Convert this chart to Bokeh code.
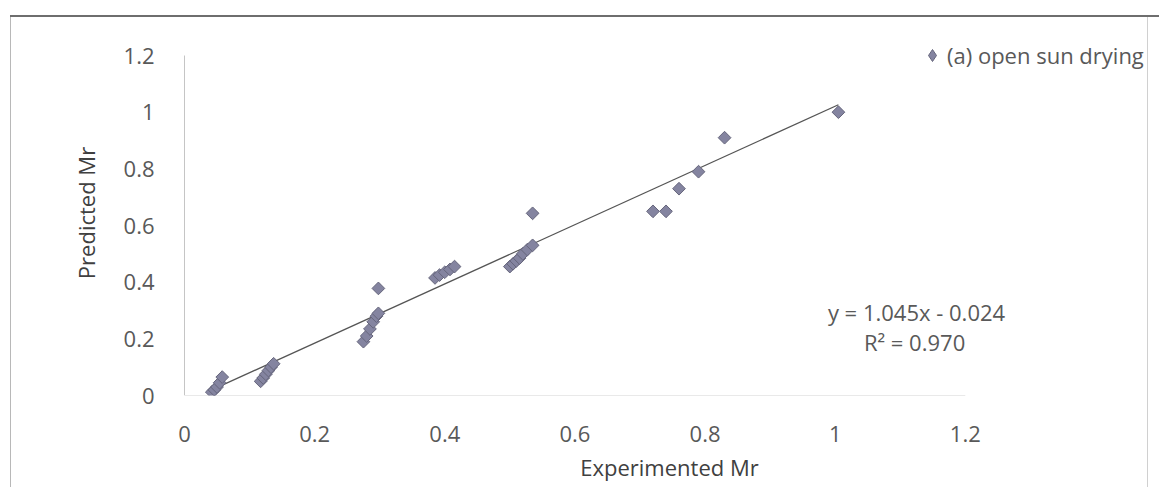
from bokeh.plotting import figure
from bokeh.models import Legend, LegendItem, Label, FixedTicker, Title
from bokeh.embed import file_html
from bokeh.resources import INLINE
import numpy as np

# ---- data ----
experimented_mr = [0.042, 0.046, 0.050, 0.054, 0.058,
                   0.117, 0.121, 0.125, 0.129, 0.133, 0.137,
                   0.275, 0.280, 0.285, 0.290, 0.295, 0.298, 0.298,
                   0.385, 0.392, 0.400, 0.408, 0.415,
                   0.500, 0.505, 0.510, 0.515, 0.520, 0.527, 0.535,
                   0.535, 0.720, 0.740, 0.760, 0.790, 0.830, 1.005]
predicted_mr = [0.012, 0.020, 0.030, 0.045, 0.065,
                0.050, 0.062, 0.075, 0.088, 0.100, 0.112,
                0.190, 0.210, 0.235, 0.260, 0.280, 0.290, 0.378,
                0.415, 0.425, 0.435, 0.445, 0.455,
                0.455, 0.465, 0.475, 0.485, 0.500, 0.515, 0.530,
                0.643, 0.650, 0.650, 0.730, 0.790, 0.910, 1.000]
series_name = "(a) open sun drying"
trend_slope = 1.045
trend_intercept = -0.024
equation_text = "y = 1.045x - 0.024"
r2_text = "R\u00b2 = 0.970"
tick_values = [0, 0.2, 0.4, 0.6, 0.8, 1, 1.2]
tick_labels = ["0", "0.2", "0.4", "0.6", "0.8", "1", "1.2"]
x_label = "Experimented Mr"
y_label = "Predicted Mr"

FONT = "Open Sans"
TXT = "#595959"
MARK_FILL = "#8484a0"
MARK_LINE = "#66667c"

# frame: x 0..1.2 spans px 184..965 (650 px/unit); y 0..1.2 spans px 395..55 (283 px/unit)
# the frame is stretched to the right and upward so that legend and equation are not clipped
p = figure(width=1159, height=487,
           x_range=(0, 1.2 + (1154 - 965) / 650.0),
           y_range=(0, 1.2 + (55 - 30) / 283.0),
           output_backend="svg", toolbar_location=None,
           min_border_left=184, min_border_right=5,
           min_border_top=30, min_border_bottom=92)
p.background_fill_color = None
p.border_fill_color = None
p.outline_line_color = None
p.grid.visible = False
p.styles = {"background": (
    "linear-gradient(#6e6e6e,#6e6e6e) 10px 15px / 100% 2px no-repeat, "
    "linear-gradient(#b8b8b8,#b8b8b8) 10px 15px / 1px 100% no-repeat, "
    "linear-gradient(#d0d0d0,#d0d0d0) 1147px 15px / 1px 100% no-repeat, #ffffff")}

overrides = {v: l for v, l in zip(tick_values, tick_labels)}
for ax in (p.xaxis[0], p.yaxis[0]):
    ax.ticker = FixedTicker(ticks=tick_values)
    ax.major_label_overrides = overrides
    ax.axis_line_color = None
    ax.major_tick_line_color = None
    ax.minor_tick_line_color = None
    ax.major_label_text_font = FONT
    ax.major_label_text_font_size = "22px"
    ax.major_label_text_color = TXT
    ax.axis_label_text_font = FONT
    ax.axis_label_text_font_size = "22px"
    ax.axis_label_text_font_style = "normal"
    ax.axis_label_text_color = "#404040"

p.yaxis.axis_label = y_label
p.xaxis.major_label_standoff = 24
p.yaxis.major_label_standoff = 24
p.yaxis.axis_label_standoff = 20

# x-axis title, centred under the 0..1.2 axis span (not under the widened frame)
xtitle = Title(text=x_label, align="center", offset=577 - (184 + 1154) / 2.0,
               text_font=FONT, text_font_size="22px", text_font_style="normal",
               text_color="#404040", standoff=10, text_baseline="alphabetic")
p.add_layout(xtitle, "below")

# axis lines limited to the 0..1.2 axis span
lo, hi = tick_values[0], tick_values[-1]
p.segment(x0=[lo], y0=[lo], x1=[hi], y1=[lo], line_color="#d4d4d4", line_width=1)
p.segment(x0=[lo], y0=[lo], x1=[lo], y1=[hi], line_color="#8c8c8c", line_width=1)

# trend line over the data range
x0, x1 = min(experimented_mr), max(experimented_mr)
tx = np.array([x0, x1])
p.line(tx, trend_slope * tx + trend_intercept, line_color="#555555", line_width=1.3)

p.scatter(experimented_mr, predicted_mr, marker="square", size=9, angle=np.pi / 4,
          fill_color=MARK_FILL, line_color=MARK_LINE, line_width=1)
# legend swatch: same series as a hidden diamond renderer (legend ignores marker angle)
swatch = p.scatter(experimented_mr, predicted_mr, marker="diamond", size=12,
                   fill_color=MARK_FILL, line_color=MARK_LINE, line_width=1,
                   visible=False)

legend = Legend(items=[LegendItem(label=series_name, renderers=[swatch])],
                location=(733, 324), padding=0, margin=0, spacing=0,
                glyph_width=30, glyph_height=32, label_standoff=0,
                border_line_color=None, background_fill_alpha=0,
                inactive_fill_alpha=0,
                label_text_font=FONT, label_text_font_size="22px",
                label_text_color=TXT)
p.add_layout(legend, "center")

p.add_layout(Label(x=1.125, y=0.296, text=equation_text, text_align="center",
                   text_baseline="middle", text_font=FONT, text_font_size="22px",
                   text_color=TXT))
p.add_layout(Label(x=1.122, y=0.188, text=r2_text, text_align="center",
                   text_baseline="middle", text_font=FONT, text_font_size="22px",
                   text_color=TXT))

open("out.html", "w").write(file_html(p, INLINE))
